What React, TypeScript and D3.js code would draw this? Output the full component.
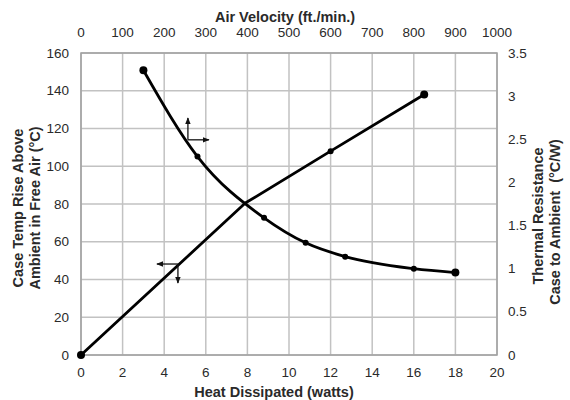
import React from "react";
import * as d3 from "d3";

const heatTicks = [0, 2, 4, 6, 8, 10, 12, 14, 16, 18, 20];
const tempTicks = [0, 20, 40, 60, 80, 100, 120, 140, 160];
const velocityTicks = [0, 100, 200, 300, 400, 500, 600, 700, 800, 900, 1000];
const resistanceTicks = [0, 0.5, 1, 1.5, 2, 2.5, 3, 3.5];

// Case temp rise vs heat dissipated (bottom / left axes)
const heatWatts = [0, 7.9, 12, 16.5];
const tempRise = [0, 80.5, 108, 138];
const tempMarker = [4, 0, 3, 4];

// Thermal resistance vs air velocity (top / right axes)
const airVelocity = [150, 280, 440, 540, 635, 800, 900];
const thermalRes = [3.3, 2.3, 1.59, 1.3, 1.14, 1.0, 0.955];
const resMarker = [4, 3, 3, 3, 3, 3, 4];

// direction arrows (in heat / temp units): [fromX, fromY, toX, toY]
const arrowsUpper = [
  [5.14, 114, 5.14, 125.6],
  [5.14, 114, 6.15, 114],
];
const arrowsLower = [
  [4.66, 48.2, 3.65, 48.2],
  [4.66, 48.2, 4.66, 38.1],
];

const W = 570;
const H = 400;
const M = { left: 81, right: 497, top: 53, bottom: 355 };
const FONT = "'Liberation Sans', Arial, sans-serif";
const GRID = "#c2c2c2";
const TXT = "#2a2a2a";
const TICK = 13.5;
const TITLE = 14.5;

export default function App() {
  const x = d3.scaleLinear().domain([0, 20]).range([M.left, M.right]);
  const y = d3.scaleLinear().domain([0, 160]).range([M.bottom, M.top]);
  const xTop = d3.scaleLinear().domain([0, 1000]).range([M.left, M.right]);
  const yRight = d3.scaleLinear().domain([0, 3.5]).range([M.bottom, M.top]);

  const tempPts = heatWatts.map((h, i) => [x(h), y(tempRise[i])] as [number, number]);
  const resPts = airVelocity.map((v, i) => [xTop(v), yRight(thermalRes[i])] as [number, number]);

  const lineGen = d3.line<[number, number]>().curve(d3.curveLinear);
  const curveGen = d3.line<[number, number]>().curve(d3.curveMonotoneX);

  const arrows = [...arrowsUpper, ...arrowsLower];
  const midY = 208;

  return (
    <svg width={W} height={H} style={{ position: "absolute", left: 0, top: 0, background: "#fff" }} fontFamily={FONT}>
      <defs>
        <marker id="ah" viewBox="0 0 10 10" refX="9" refY="5" markerWidth="7" markerHeight="7" orient="auto-start-reverse" markerUnits="userSpaceOnUse">
          <path d="M0,1 L10,5 L0,9 Z" fill="#111" />
        </marker>
      </defs>
      {/* grid */}
      {heatTicks.map((t) => (
        <line key={"gx" + t} x1={x(t)} x2={x(t)} y1={M.top} y2={M.bottom} stroke={GRID} strokeWidth={1.5} />
      ))}
      {tempTicks.map((t) => (
        <line key={"gy" + t} x1={M.left} x2={M.right} y1={y(t)} y2={y(t)} stroke={GRID} strokeWidth={1.5} />
      ))}
      <rect x={M.left} y={M.top} width={M.right - M.left} height={M.bottom - M.top} fill="none" stroke="#a0a0a0" strokeWidth={1.5} />

      {/* bottom ticks */}
      {heatTicks.map((t) => (
        <text key={"bx" + t} x={x(t)} y={377} textAnchor="middle" fontSize={TICK} fill={TXT}>{t}</text>
      ))}
      <text x={274} y={397} textAnchor="middle" fontSize={TITLE} fontWeight="bold" fill={TXT}>Heat Dissipated (watts)</text>

      {/* top ticks */}
      {velocityTicks.map((t) => (
        <text key={"tx" + t} x={xTop(t)} y={37} textAnchor="middle" fontSize={TICK} fill={TXT}>{t}</text>
      ))}
      <text x={285} y={22} textAnchor="middle" fontSize={TITLE} fontWeight="bold" fill={TXT}>Air Velocity (ft./min.)</text>

      {/* left ticks */}
      {tempTicks.map((t) => (
        <text key={"ly" + t} x={69} y={y(t) + 4.5} textAnchor="end" fontSize={TICK} fill={TXT}>{t}</text>
      ))}
      <text transform={`translate(23,${midY}) rotate(-90)`} textAnchor="middle" fontSize={TITLE} fontWeight="bold" fill={TXT}>Case Temp Rise Above</text>
      <text transform={`translate(40,${midY}) rotate(-90)`} textAnchor="middle" fontSize={TITLE} fontWeight="bold" fill={TXT}>Ambient in Free Air (°C)</text>

      {/* right ticks */}
      {resistanceTicks.map((t) => (
        <text key={"ry" + t} x={508} y={yRight(t) + 4.5} textAnchor="start" fontSize={TICK} fill={TXT}>{t}</text>
      ))}
      <text transform={`translate(543,216) rotate(-90)`} textAnchor="middle" fontSize={TITLE} fontWeight="bold" fill={TXT}>Thermal Resistance</text>
      <text transform={`translate(560,222) rotate(-90)`} textAnchor="middle" fontSize={TITLE} fontWeight="bold" fill={TXT} style={{ whiteSpace: "pre" }}>{"Case to Ambient  (°C/W)"}</text>

      {/* series */}
      <path d={lineGen(tempPts) || ""} fill="none" stroke="#000" strokeWidth={2.8} strokeLinejoin="round" />
      <path d={curveGen(resPts) || ""} fill="none" stroke="#000" strokeWidth={2.8} strokeLinejoin="round" />
      {tempPts.map((p, i) => tempMarker[i] > 0 && <circle key={"tp" + i} cx={p[0]} cy={p[1]} r={tempMarker[i]} fill="#000" />)}
      {resPts.map((p, i) => <circle key={"rp" + i} cx={p[0]} cy={p[1]} r={resMarker[i]} fill="#000" />)}

      {/* arrows */}
      {arrows.map((a, i) => (
        <line key={"ar" + i} x1={x(a[0])} y1={y(a[1])} x2={x(a[2])} y2={y(a[3])} stroke="#111" strokeWidth={1.3} markerEnd="url(#ah)" />
      ))}
    </svg>
  );
}
